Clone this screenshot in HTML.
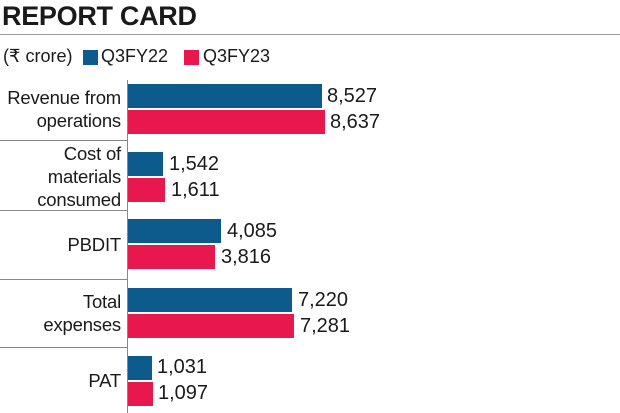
<!DOCTYPE html>
<html><head><style>
body{margin:0;width:620px;height:413px;background:#fff;position:relative;overflow:hidden;font-family:"Liberation Sans",sans-serif;color:#1a1a1a}
div{position:absolute}
.t{left:2px;top:1px;font-size:27px;font-weight:bold;letter-spacing:-0.3px}
.lg{top:46px;font-size:18px}
.b{background:#0d5a8c;left:128px;height:24px}
.p{background:#e8184e;left:128px;height:24px}
.v{font-size:20px;line-height:24px}
.l{left:0;width:121px;text-align:right;font-size:18.5px;line-height:23px;letter-spacing:-0.2px}
.s{left:0;width:128px;height:1px;background:#888}
</style></head><body>
<div class="t">REPORT CARD</div>
<div style="left:0;top:34px;width:620px;height:1px;background:#999"></div>
<div class="lg" style="left:3px">(₹ crore)</div>
<div style="left:83px;top:50px;width:15px;height:15px;background:#0d5a8c"></div>
<div class="lg" style="left:101px">Q3FY22</div>
<div style="left:184px;top:50px;width:15px;height:15px;background:#e8184e"></div>
<div class="lg" style="left:203px">Q3FY23</div>
<div style="left:127px;top:80px;width:1px;height:333px;background:#888"></div>

<div class="l" style="top:86px">Revenue from<br>operations</div>
<div class="b" style="top:84px;width:194px"></div><div class="v" style="left:327px;top:84px">8,527</div>
<div class="p" style="top:110px;width:197px"></div><div class="v" style="left:330px;top:110px">8,637</div>
<div class="s" style="top:140px"></div>

<div class="l" style="top:142px">Cost of<br>materials<br>consumed</div>
<div class="b" style="top:152px;width:35px"></div><div class="v" style="left:169px;top:152px">1,542</div>
<div class="p" style="top:178px;width:37px"></div><div class="v" style="left:171px;top:178px">1,611</div>
<div class="s" style="top:210px"></div>

<div class="l" style="top:233px">PBDIT</div>
<div class="b" style="top:219px;width:93px"></div><div class="v" style="left:227px;top:219px">4,085</div>
<div class="p" style="top:245px;width:87px"></div><div class="v" style="left:221px;top:245px">3,816</div>
<div class="s" style="top:279px"></div>

<div class="l" style="top:290px">Total<br>expenses</div>
<div class="b" style="top:288px;width:164px"></div><div class="v" style="left:298px;top:288px">7,220</div>
<div class="p" style="top:314px;width:166px"></div><div class="v" style="left:300px;top:314px">7,281</div>
<div class="s" style="top:347px"></div>

<div class="l" style="top:369px">PAT</div>
<div class="b" style="top:356px;width:24px"></div><div class="v" style="left:157px;top:355px">1,031</div>
<div class="p" style="top:382px;width:25px"></div><div class="v" style="left:158px;top:381px">1,097</div>
</body></html>
